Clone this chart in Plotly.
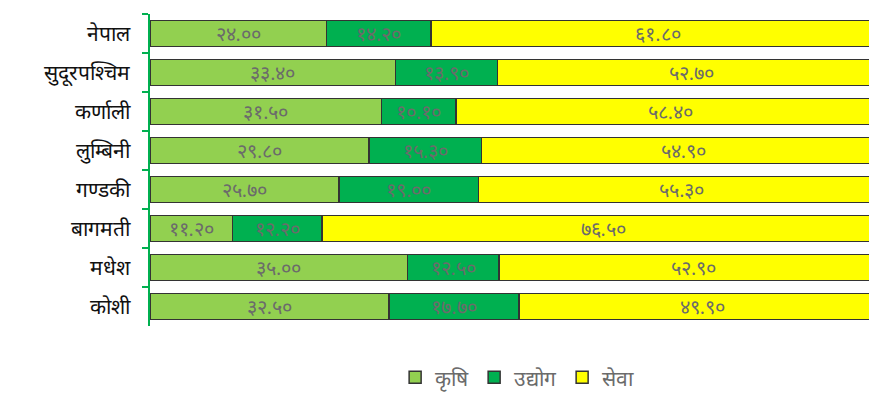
import plotly.graph_objects as go

provinces = ["नेपाल", "सुदूरपश्चिम", "कर्णाली", "लुम्बिनी", "गण्डकी", "बागमती", "मधेश", "कोशी"]
krishi = [24.00, 33.40, 31.50, 29.80, 25.70, 11.20, 35.00, 32.50]
udyog = [14.20, 13.90, 10.10, 15.30, 19.00, 12.20, 12.50, 17.70]
sewa = [61.80, 52.70, 58.40, 54.90, 55.30, 76.50, 52.90, 49.90]
series_names = ["कृषि", "उद्योग", "सेवा"]
colors = ["#92d050", "#00b050", "#ffff00"]

DEV = str.maketrans("0123456789", "०१२३४५६७८९")


def dev(v):
    return f"{v:.2f}".translate(DEV)


fig = go.Figure()
for name, vals, col in zip(series_names, [krishi, udyog, sewa], colors):
    fig.add_trace(go.Bar(
        y=provinces, x=vals, name=name, orientation="h",
        marker=dict(color=col, line=dict(color="#333333", width=1.5)),
        text=[dev(v) for v in vals], textposition="inside",
        insidetextanchor="middle", constraintext="none",
        textfont=dict(size=20, color="#6b6b6b"),
    ))

fig.update_layout(
    barmode="stack", bargap=0.34,
    width=869, height=384,
    margin=dict(l=142, r=0, t=6, b=66, autoexpand=False),
    paper_bgcolor="white", plot_bgcolor="white",
    uniformtext=dict(minsize=18, mode="show"),
    showlegend=True,
    legend=dict(orientation="h", x=0.505, xanchor="center", y=-0.1, yanchor="top",
                font=dict(size=21, color="#6b6b6b"), traceorder="normal",
                itemwidth=30),
    xaxis=dict(visible=False, range=[0, 98.9]),
    yaxis=dict(autorange="reversed", showline=True, linecolor="#00b050", linewidth=2,
               ticks="outside", tickson="boundaries", tickcolor="#00b050", ticklen=6,
               tickwidth=2, showgrid=False, automargin=False, ticklabelstandoff=14,
               tickfont=dict(size=21, color="#111111")),
)

fig.write_html("out.html")
